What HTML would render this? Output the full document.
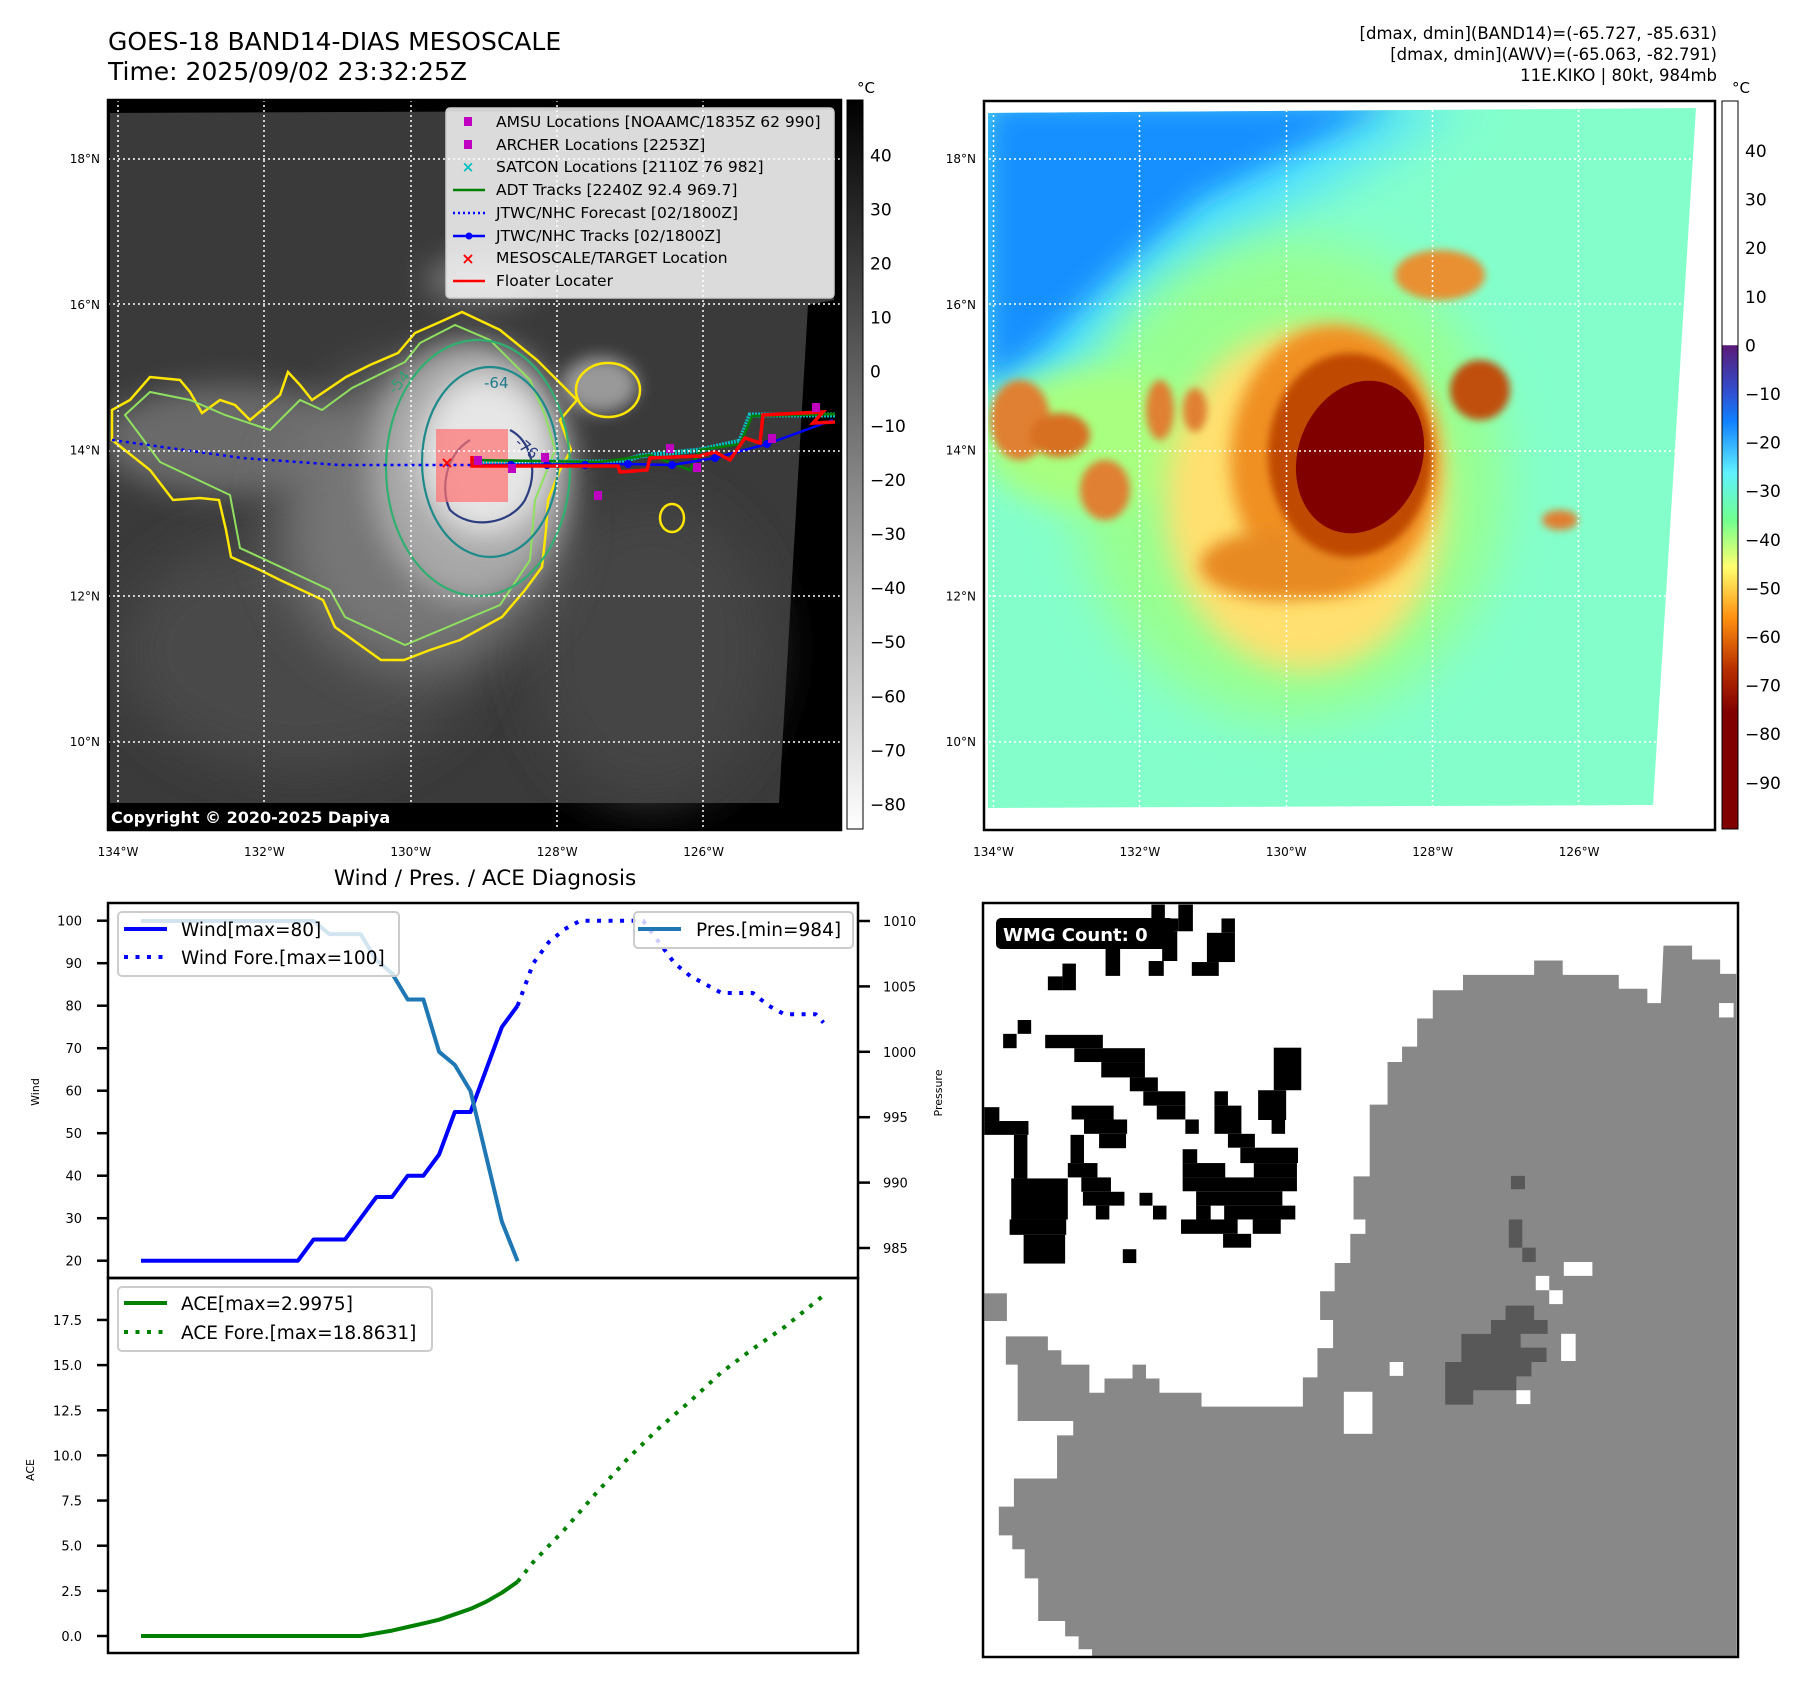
<!DOCTYPE html>
<html><head><meta charset="utf-8"><style>
html,body{margin:0;padding:0;background:#fff}
svg{display:block;font-family:"DejaVu Sans","Liberation Sans",sans-serif}
</style></head><body>
<svg id="root" width="1801" height="1690" viewBox="0 0 1801 1690" xmlns="http://www.w3.org/2000/svg">
<defs>
<filter id="b4" x="-50%" y="-50%" width="200%" height="200%"><feGaussianBlur stdDeviation="4"/></filter>
<filter id="b8" x="-50%" y="-50%" width="200%" height="200%"><feGaussianBlur stdDeviation="8"/></filter>
<filter id="b15" x="-50%" y="-50%" width="200%" height="200%"><feGaussianBlur stdDeviation="15"/></filter>
<filter id="b25" x="-50%" y="-50%" width="200%" height="200%"><feGaussianBlur stdDeviation="25"/></filter>
<linearGradient id="cbGray" x1="0" y1="0" x2="0" y2="1"><stop offset="0" stop-color="#000"/><stop offset="1" stop-color="#fff"/></linearGradient>
<linearGradient id="cbJet" x1="0" y1="0" x2="0" y2="1">
<stop offset="0" stop-color="#fff"/><stop offset="0.335" stop-color="#fff"/>
<stop offset="0.336" stop-color="#5a1a78"/><stop offset="0.40" stop-color="#3050d0"/>
<stop offset="0.44" stop-color="#1080ff"/><stop offset="0.51" stop-color="#60f0ff"/>
<stop offset="0.575" stop-color="#70ff90"/><stop offset="0.64" stop-color="#ffff70"/>
<stop offset="0.71" stop-color="#ff9010"/><stop offset="0.78" stop-color="#b83000"/>
<stop offset="0.84" stop-color="#800000"/><stop offset="1" stop-color="#800000"/></linearGradient>
<clipPath id="clipL"><rect x="108" y="100" width="733" height="730"/></clipPath>
<clipPath id="clipR"><rect x="984" y="101" width="731" height="729"/></clipPath>
</defs>

<text x="108" y="50" font-size="25">GOES-18 BAND14-DIAS MESOSCALE</text>
<text x="108" y="80" font-size="25">Time: 2025/09/02 23:32:25Z</text>
<g font-size="16.5" text-anchor="end">
<text x="1717" y="39">[dmax, dmin](BAND14)=(-65.727, -85.631)</text>
<text x="1717" y="60">[dmax, dmin](AWV)=(-65.063, -82.791)</text>
<text x="1717" y="81">11E.KIKO | 80kt, 984mb</text>
</g>

<!-- ============ TOP-LEFT MAP ============ -->
<g clip-path="url(#clipL)">
<rect x="108" y="100" width="733" height="730" fill="#000"/>
<polygon points="110,113 834,110 834,300 808,305 779,803 110,803" fill="#3a3a3a"/>
<g clip-path="url(#clipL)">
<ellipse cx="300" cy="650" rx="180" ry="120" fill="#4a4a4a" filter="url(#b25)"/>
<ellipse cx="650" cy="650" rx="120" ry="150" fill="#444" filter="url(#b25)"/>
<ellipse cx="230" cy="440" rx="130" ry="55" fill="#6a6a6a" filter="url(#b15)"/>
<ellipse cx="420" cy="520" rx="140" ry="150" fill="#767676" filter="url(#b25)"/>
<ellipse cx="470" cy="470" rx="100" ry="130" fill="#a8a8a8" filter="url(#b15)"/>
<ellipse cx="600" cy="385" rx="38" ry="28" fill="#999" filter="url(#b8)"/>
<ellipse cx="485" cy="455" rx="65" ry="80" fill="#e6e6e6" filter="url(#b15)"/>
<ellipse cx="480" cy="280" rx="55" ry="22" fill="#777" filter="url(#b15)"/>
</g>
<path d="M462,312 L440,322 L415,333 L398,353 L370,365 L346,377 L312,400 L300,385 L288,372 L280,395 L250,420 L235,405 L220,400 L202,413 L190,392 L180,380 L150,377 L130,400 L112,410 L112,440 L150,470 L173,500 L200,498 L219,500 L226,530 L231,557 L260,570 L280,580 L323,600 L335,627 L360,645 L381,660 L404,660 L430,650 L460,640 L502,617 L525,590 L542,567 L546,530 L548,500 L560,470 L571,450 L560,420 L577,400 L557,380 L537,360 L500,330 Z" fill="none" stroke="#ffe600" stroke-width="2.5"/>
<ellipse cx="608" cy="390" rx="32" ry="27" fill="none" stroke="#ffe600" stroke-width="2.5"/>
<ellipse cx="672" cy="518" rx="12" ry="14" fill="none" stroke="#ffe600" stroke-width="2.5"/>
<path d="M455,325 L420,343 L405,362 L352,388 L322,410 L300,400 L270,430 L225,415 L190,400 L150,392 L125,415 L160,462 L230,495 L240,548 L330,590 L345,617 L405,645 L500,605 L530,560 L535,500 L555,450 L545,415 L530,380 L490,340 Z" fill="none" stroke="#90e060" stroke-width="2"/>
<ellipse cx="478" cy="468" rx="92" ry="128" fill="none" stroke="#30b070" stroke-width="2.2"/>
<ellipse cx="490" cy="462" rx="68" ry="95" fill="none" stroke="#1f8a8a" stroke-width="2.2"/>
<path d="M470,440 C445,455 440,490 450,510 C470,530 510,525 525,500 C540,470 530,440 510,430" fill="none" stroke="#2c3e80" stroke-width="2.2"/>
<text x="484" y="388" font-size="15" fill="#1f7a8a">-64</text>
<text x="514" y="444" font-size="15" fill="#2c3e80" transform="rotate(40 514 444)">-76</text>
<text x="395" y="395" font-size="15" fill="#30a070" transform="rotate(-50 395 395)">-54</text>
<rect x="436" y="429" width="72" height="73" fill="#ff7070" opacity="0.7"/>
<polyline points="112,440 242,458 340,465 472,465" fill="none" stroke="#0000ff" stroke-width="2.5" stroke-dasharray="3 4"/>
<polyline points="472,462 620,462 640,456 700,450 740,441 750,415 835,415" fill="none" stroke="#00c0c0" stroke-width="5" stroke-dasharray="2 1"/>
<polyline points="472,460 600,462 650,455 690,470 700,450 740,444 752,416 835,414" fill="none" stroke="#008000" stroke-width="2.5"/>
<polyline points="472,465 628,464 672,465 715,458 767,444 833,420" fill="none" stroke="#0000ff" stroke-width="2.5"/>
<g fill="#0000ff">
<circle cx="511" cy="465" r="4"/><circle cx="547" cy="465" r="4"/><circle cx="585" cy="465" r="4"/><circle cx="628" cy="464" r="4"/><circle cx="672" cy="465" r="4"/><circle cx="715" cy="458" r="4"/><circle cx="767" cy="444" r="4"/></g>
<polyline points="472,456 472,466 618,466 620,472 647,470 650,458 700,456 715,452 730,460 745,438 760,443 763,415 823,412 813,423 835,422" fill="none" stroke="#ff0000" stroke-width="3.5"/>
<g fill="#c000c0">
<rect x="474" y="456" width="8" height="9"/><rect x="508" y="464" width="8" height="9"/><rect x="541" y="453" width="8" height="9"/><rect x="594" y="491" width="8" height="9"/><rect x="666" y="444" width="8" height="9"/><rect x="693" y="463" width="8" height="9"/><rect x="768" y="434" width="8" height="9"/><rect x="812" y="403" width="8" height="9"/></g>
<text x="447" y="468" font-size="16" fill="#ff0000" font-weight="bold" text-anchor="middle">×</text>
<g stroke="#fff" stroke-width="1.5" stroke-dasharray="2 3">
<line x1="118" y1="100" x2="118" y2="830"/><line x1="264" y1="100" x2="264" y2="830"/><line x1="411" y1="100" x2="411" y2="830"/><line x1="557" y1="100" x2="557" y2="830"/><line x1="703" y1="100" x2="703" y2="830"/>
<line x1="108" y1="159" x2="841" y2="159"/><line x1="108" y1="304" x2="841" y2="304"/><line x1="108" y1="451" x2="841" y2="451"/><line x1="108" y1="596" x2="841" y2="596"/><line x1="108" y1="742" x2="841" y2="742"/></g>
<rect x="108" y="803" width="310" height="27" fill="#000"/>
<text x="111" y="823" font-size="16" font-weight="bold" fill="#fff">Copyright © 2020-2025 Dapiya</text>
</g>
<rect x="108" y="100" width="733" height="730" fill="none" stroke="#000" stroke-width="2.5"/>

<g>
<rect x="446" y="108" width="388" height="190" rx="4" fill="#fff" fill-opacity="0.82" stroke="#ccc" stroke-width="1.5"/>
<g font-size="15.5" fill="#000">
<rect x="464" y="117" width="8" height="9" fill="#c000c0"/><text x="496" y="127">AMSU Locations [NOAAMC/1835Z 62 990]</text>
<rect x="464" y="140" width="8" height="9" fill="#c000c0"/><text x="496" y="150">ARCHER Locations [2253Z]</text>
<text x="468" y="172" fill="#00c0c0" font-weight="bold" text-anchor="middle" font-size="15">×</text><text x="496" y="172">SATCON Locations [2110Z 76 982]</text>
<line x1="453" y1="190" x2="485" y2="190" stroke="#008000" stroke-width="2.5"/><text x="496" y="195">ADT Tracks [2240Z 92.4 969.7]</text>
<line x1="453" y1="213" x2="485" y2="213" stroke="#0000ff" stroke-width="2.5" stroke-dasharray="2 3"/><text x="496" y="218">JTWC/NHC Forecast [02/1800Z]</text>
<line x1="453" y1="236" x2="485" y2="236" stroke="#0000ff" stroke-width="2.5"/><circle cx="469" cy="236" r="3.5" fill="#0000ff"/><text x="496" y="241">JTWC/NHC Tracks [02/1800Z]</text>
<text x="468" y="264" fill="#ff0000" font-weight="bold" text-anchor="middle" font-size="16">×</text><text x="496" y="263">MESOSCALE/TARGET Location</text>
<line x1="453" y1="281" x2="485" y2="281" stroke="#ff0000" stroke-width="2.5"/><text x="496" y="286">Floater Locater</text>
</g></g>

<g>
<rect x="847" y="100" width="16" height="729" fill="url(#cbGray)" stroke="#000" stroke-width="1"/>
<text x="857" y="93" font-size="15">°C</text>
<g id="cbLTicks" font-size="17"></g>
</g>
<g id="ltLat" font-size="12" text-anchor="end"></g>
<g id="ltLon" font-size="12" text-anchor="middle"></g>

<!-- ============ TOP-RIGHT MAP ============ -->
<g clip-path="url(#clipR)">
<rect x="984" y="101" width="731" height="729" fill="#fff"/>
<clipPath id="imgR"><polygon points="988,113 1696,108 1653,805 988,808"/></clipPath>
<g clip-path="url(#imgR)">
<rect x="984" y="100" width="731" height="730" fill="#84ffcc"/>
<polygon points="984,100 1470,100 1320,190 1160,290 1070,380 984,440" fill="#50e0ff" filter="url(#b25)"/>
<polygon points="984,100 1400,100 1200,200 1110,280 1040,350 984,390" fill="#1890ff" filter="url(#b15)"/>
<ellipse cx="1290" cy="480" rx="215" ry="240" fill="#98ff90" filter="url(#b25)"/>
<ellipse cx="1090" cy="440" rx="110" ry="70" fill="#a8ff80" filter="url(#b15)"/>
<ellipse cx="1305" cy="500" rx="140" ry="170" fill="#ffe070" filter="url(#b15)"/>
<ellipse cx="1335" cy="460" rx="105" ry="135" fill="#f09020" filter="url(#b8)"/>
<ellipse cx="1280" cy="565" rx="80" ry="35" fill="#e88a20" filter="url(#b8)"/>
<ellipse cx="1350" cy="455" rx="82" ry="102" fill="#c04800" filter="url(#b4)"/>
<ellipse cx="1360" cy="457" rx="62" ry="78" fill="#800000" transform="rotate(20 1360 457)"/>
<ellipse cx="1020" cy="420" rx="30" ry="40" fill="#e08030" filter="url(#b4)"/>
<ellipse cx="1060" cy="435" rx="30" ry="22" fill="#d87020" filter="url(#b4)"/>
<ellipse cx="1105" cy="490" rx="25" ry="30" fill="#e08030" filter="url(#b4)"/>
<ellipse cx="1160" cy="410" rx="14" ry="30" fill="#e08030" filter="url(#b4)"/>
<ellipse cx="1195" cy="410" rx="12" ry="22" fill="#e08030" filter="url(#b4)"/>
<ellipse cx="1480" cy="390" rx="30" ry="30" fill="#c05010" filter="url(#b4)"/>
<ellipse cx="1440" cy="275" rx="45" ry="25" fill="#e89030" filter="url(#b4)"/>
<ellipse cx="1560" cy="520" rx="18" ry="10" fill="#e08030" filter="url(#b4)"/>
</g>
<g stroke="#fff" stroke-width="1.5" stroke-dasharray="2 3">
<line x1="993.5" y1="100" x2="993.5" y2="830"/><line x1="1139.5" y1="100" x2="1139.5" y2="830"/><line x1="1286.5" y1="100" x2="1286.5" y2="830"/><line x1="1432.5" y1="100" x2="1432.5" y2="830"/><line x1="1578.5" y1="100" x2="1578.5" y2="830"/>
<line x1="984" y1="159" x2="1715" y2="159"/><line x1="984" y1="304" x2="1715" y2="304"/><line x1="984" y1="451" x2="1715" y2="451"/><line x1="984" y1="596" x2="1715" y2="596"/><line x1="984" y1="742" x2="1715" y2="742"/></g>
</g>
<rect x="984" y="101" width="731" height="729" fill="none" stroke="#000" stroke-width="2.5"/>
<g>
<rect x="1722" y="101" width="16" height="728" fill="url(#cbJet)" stroke="#000" stroke-width="1"/>
<text x="1732" y="93" font-size="15">°C</text>
<g id="cbRTicks" font-size="17"></g>
</g>
<g id="rtLat" font-size="12" text-anchor="end"></g>
<g id="rtLon" font-size="12" text-anchor="middle"></g>

<!-- ============ CHARTS ============ -->
<text x="485" y="885" font-size="21.5" text-anchor="middle">Wind / Pres. / ACE Diagnosis</text>
<g id="windChart"></g>
<g id="aceChart"></g>
<rect x="108" y="903" width="750" height="375" fill="none" stroke="#000" stroke-width="2.5"/>
<rect x="108" y="1278" width="750" height="375" fill="none" stroke="#000" stroke-width="2.5"/>
<text x="39" y="1092" font-size="11" text-anchor="middle" transform="rotate(-90 39 1092)">Wind</text>
<text x="942" y="1093" font-size="11" text-anchor="middle" transform="rotate(-90 942 1093)">Pressure</text>
<text x="34" y="1470" font-size="11" text-anchor="middle" transform="rotate(-90 34 1470)">ACE</text>

<g>
<rect x="118" y="912" width="281" height="64" rx="4" fill="#fff" fill-opacity="0.8" stroke="#ccc" stroke-width="2"/>
<line x1="124" y1="929" x2="167" y2="929" stroke="#0000ff" stroke-width="4"/>
<text x="181" y="936" font-size="18.5">Wind[max=80]</text>
<line x1="124" y1="957" x2="167" y2="957" stroke="#0000ff" stroke-width="4" stroke-dasharray="4 7.5"/>
<text x="181" y="964" font-size="18.5">Wind Fore.[max=100]</text>
</g>
<g>
<rect x="634" y="912" width="219" height="36" rx="4" fill="#fff" fill-opacity="0.8" stroke="#ccc" stroke-width="2"/>
<line x1="638" y1="929" x2="681" y2="929" stroke="#1f77b4" stroke-width="4"/>
<text x="696" y="936" font-size="18.5">Pres.[min=984]</text>
</g>
<g>
<rect x="118" y="1287" width="314" height="64" rx="4" fill="#fff" fill-opacity="0.8" stroke="#ccc" stroke-width="2"/>
<line x1="124" y1="1303" x2="167" y2="1303" stroke="#008000" stroke-width="4"/>
<text x="181" y="1310" font-size="18.5">ACE[max=2.9975]</text>
<line x1="124" y1="1332" x2="167" y2="1332" stroke="#008000" stroke-width="4" stroke-dasharray="4 7.5"/>
<text x="181" y="1339" font-size="18.5">ACE Fore.[max=18.8631]</text>
</g>

<!-- ============ BOTTOM-RIGHT WMG ============ -->
<g>
<rect x="983" y="903" width="755" height="754" fill="#fff"/>
<g transform="translate(960,880) scale(0.5391,0.5128)">
<polygon fill="#888" points="1305,128 1358,128 1358,155 1410,155 1410,183 1440,183 1440,1515 245,1515 245,1500 220,1500 220,1475 195,1475 195,1445 145,1445 145,1362 120,1362 120,1305 97,1305 97,1278 72,1278 72,1222 100,1222 100,1167 180,1167 180,1083 210,1083 210,1055 107,1055 107,945 85,945 85,890 163,890 163,917 188,917 188,945 240,945 240,1000 268,1000 268,972 320,972 320,945 345,945 345,972 370,972 370,1000 448,1000 448,1027 636,1027 636,970 663,970 663,913 692,913 692,858 668,858 668,802 695,802 695,747 724,747 724,690 752,690 752,662 730,662 730,578 760,578 760,438 793,438 793,355 820,355 820,325 848,325 848,270 877,270 877,215 933,215 933,185 1065,185 1065,157 1118,157 1118,185 1222,185 1222,212 1275,212 1275,240 1300,240"/>
<rect x="45" y="806" width="42" height="54" fill="#888"/>
<g fill="#fff"><rect x="712" y="998" width="53" height="82"/><rect x="797" y="940" width="25" height="27"/><rect x="1120" y="745" width="53" height="27"/><rect x="1068" y="772" width="25" height="28"/><rect x="1093" y="800" width="25" height="27"/><rect x="1115" y="885" width="27" height="53"/><rect x="1032" y="995" width="26" height="27"/><rect x="1408" y="240" width="27" height="28"/></g>
<g fill="#585858"><polygon points="930,885 985,885 985,858 1012,858 1012,830 1065,830 1065,858 1090,858 1090,885 1040,885 1040,912 1088,912 1088,940 1060,940 1060,968 1032,968 1032,995 952,995 952,1023 900,1023 900,940 930,940"/><rect x="1022" y="577" width="26" height="26"/><rect x="1018" y="662" width="25" height="55"/><rect x="1043" y="717" width="25" height="28"/></g>
<g fill="#000">
<rect x="355" y="48" width="25" height="27"/><rect x="380" y="75" width="25" height="25"/><rect x="405" y="48" width="27" height="52"/><rect x="375" y="100" width="28" height="58"/><rect x="350" y="158" width="28" height="29"/><rect x="270" y="130" width="27" height="57"/><rect x="485" y="75" width="25" height="28"/><rect x="458" y="103" width="52" height="57"/><rect x="430" y="160" width="50" height="27"/><rect x="190" y="163" width="25" height="52"/><rect x="163" y="188" width="27" height="27"/>
<rect x="107" y="273" width="25" height="27"/><rect x="80" y="300" width="25" height="28"/><rect x="158" y="302" width="107" height="26"/><rect x="212" y="328" width="131" height="27"/><rect x="262" y="355" width="81" height="30"/><rect x="315" y="385" width="52" height="27"/><rect x="340" y="412" width="78" height="28"/><rect x="365" y="440" width="53" height="27"/><rect x="582" y="327" width="51" height="83"/><rect x="553" y="410" width="52" height="58"/><rect x="578" y="468" width="25" height="27"/><rect x="472" y="412" width="25" height="28"/><rect x="472" y="440" width="50" height="55"/><rect x="497" y="495" width="50" height="27"/><rect x="418" y="467" width="25" height="28"/><rect x="207" y="440" width="78" height="27"/><rect x="230" y="467" width="80" height="28"/><rect x="258" y="495" width="50" height="28"/><rect x="45" y="443" width="28" height="27"/><rect x="45" y="470" width="82" height="27"/><rect x="100" y="497" width="25" height="85"/><rect x="205" y="497" width="25" height="55"/><rect x="200" y="552" width="55" height="28"/><rect x="225" y="580" width="55" height="28"/><rect x="228" y="608" width="77" height="27"/><rect x="252" y="635" width="25" height="27"/><rect x="333" y="610" width="24" height="25"/><rect x="358" y="635" width="25" height="27"/><rect x="413" y="525" width="27" height="27"/><rect x="413" y="552" width="79" height="28"/><rect x="520" y="522" width="107" height="30"/><rect x="545" y="552" width="80" height="28"/><rect x="413" y="580" width="212" height="27"/><rect x="438" y="607" width="160" height="28"/><rect x="438" y="635" width="27" height="27"/><rect x="490" y="635" width="132" height="27"/><rect x="410" y="662" width="105" height="28"/><rect x="543" y="662" width="52" height="28"/><rect x="488" y="690" width="52" height="27"/><rect x="95" y="582" width="105" height="80"/><rect x="92" y="662" width="105" height="30"/><rect x="118" y="692" width="77" height="56"/><rect x="302" y="720" width="25" height="27"/>
</g>
</g>
<rect x="996" y="918" width="178" height="31" rx="5" fill="#000"/>
<text x="1003" y="941" font-size="18" font-weight="bold" fill="#fff">WMG Count: 0</text>
<rect x="983" y="903" width="755" height="754" fill="none" stroke="#000" stroke-width="2.5"/>
</g>
</svg>
<script>
const obsHours = [0,6,12,18,24,30,36,42,48,54,60,66,72,78,84,90,96,102,108,114,120,126,132,138,144];
const windObs = [20,20,20,20,20,20,20,20,20,20,20,25,25,25,30,35,35,40,40,45,55,55,65,75,80];
const presObs = [1010,1010,1010,1010,1010,1010,1010,1010,1010,1010,1010,1010,1009,1009,1009,1007,1006,1004,1004,1000,999,997,992,987,984];
const aceObs = [0,0,0,0,0,0,0,0,0,0,0,0,0,0,0,0.15,0.3,0.5,0.7,0.9,1.2,1.5,1.9,2.4,3.0];
const fcstHours = [144,150,156,162,168,180,192,198,204,210,216,222,234,240,246,258,261];
const windFcst = [80,90,95,98,100,100,100,95,90,87,85,83,83,80,78,78,76];
const aceFcstHours = [144,150,162,174,186,198,210,222,234,246,261];
const aceFcst = [3.0,4.1,5.9,7.9,9.8,11.5,13.0,14.6,15.9,17.1,18.86];
const windTicks = [20,30,40,50,60,70,80,90,100];
const presTicks = [985,990,995,1000,1005,1010];
const aceTicks = [0,2.5,5,7.5,10,12.5,15,17.5];
const cbLTickVals = [40,30,20,10,0,-10,-20,-30,-40,-50,-60,-70,-80];
const cbRTickVals = [40,30,20,10,0,-10,-20,-30,-40,-50,-60,-70,-80,-90];
const latTicks = [18,16,14,12,10];
const lonTicks = [134,132,130,128,126];

const NS='http://www.w3.org/2000/svg';
function mk(tag, attrs, parent){const e=document.createElementNS(NS,tag);for(const k in attrs)e.setAttribute(k,attrs[k]);parent.appendChild(e);return e;}
const xH = h => 141 + h*2.615;
const yW = w => 920.7 + (100-w)*4.25;
const yP = p => 921 + (1010-p)*13.08;
const yA = a => 1636 - a*18.06;
const wc=document.getElementById('windChart'), ac=document.getElementById('aceChart');

windTicks.forEach(v=>{const y=yW(v);
 const t=mk('line',{x1:97,y1:y,x2:108,y2:y,stroke:'#000','stroke-width':2.5},wc);
  
 const l=mk('text',{x:82,y:y+5,'font-size':13,'text-anchor':'end'},wc); l.textContent=v;
  });
presTicks.forEach(v=>{const y=yP(v);
 const t=mk('line',{x1:858,y1:y,x2:870,y2:y,stroke:'#000','stroke-width':2.5},wc);
  
 const l=mk('text',{x:883,y:y+5,'font-size':13},wc); l.textContent=v;
  });
aceTicks.forEach(v=>{const y=yA(v);
 const t=mk('line',{x1:97,y1:y,x2:108,y2:y,stroke:'#000','stroke-width':2.5},ac);
  
 const l=mk('text',{x:82,y:y+5,'font-size':13,'text-anchor':'end'},ac); l.textContent=v.toFixed(1);
  });

function pl(hours, vals, fy, attrs, parent, name){
 const pts=hours.map((h,i)=>xH(h).toFixed(1)+','+fy(vals[i]).toFixed(1)).join(' ');
 const e=mk('polyline',Object.assign({points:pts,fill:'none','stroke-linejoin':'round'},attrs),parent);
 
 
 return e;}
pl(obsHours, windObs, yW, {stroke:'#0000ff','stroke-width':4}, wc, 'wind-observed-line');
pl(fcstHours, windFcst, yW, {stroke:'#0000ff','stroke-width':4,'stroke-dasharray':'4 7.5'}, wc, 'wind-forecast-line');
pl(obsHours, presObs, yP, {stroke:'#1f77b4','stroke-width':4}, wc, 'pressure-line');
pl(obsHours, aceObs, yA, {stroke:'#008000','stroke-width':4}, ac, 'ace-observed-line');
pl(aceFcstHours, aceFcst, yA, {stroke:'#008000','stroke-width':4,'stroke-dasharray':'4 7.5'}, ac, 'ace-forecast-line');

const cbl=document.getElementById('cbLTicks');
cbLTickVals.forEach(v=>{const y=155.3+(40-v)*5.41;
 const l=mk('text',{x:870,y:y+6},cbl); l.textContent=(v<0?'\u2212'+(-v):v);
  });
const cbr=document.getElementById('cbRTicks');
cbRTickVals.forEach(v=>{const y=151+(40-v)*4.86;
 const l=mk('text',{x:1745,y:y+6},cbr); l.textContent=(v<0?'\u2212'+(-v):v);
  });
[['ltLat',100,'ltLon',118],['rtLat',976,'rtLon',993.5]].forEach(([la,lx,lo,ox])=>{
 const gLa=document.getElementById(la), gLo=document.getElementById(lo);
 latTicks.forEach(v=>{const y=159+(18-v)*72.9;
  const t=mk('text',{x:lx,y:y+4},gLa); t.textContent=v+'°N';
   });
 lonTicks.forEach(v=>{const x=ox+(134-v)*73.2;
  const t=mk('text',{x:x,y:856},gLo); t.textContent=v+'°W';
   });
});
</script>
</body></html>
